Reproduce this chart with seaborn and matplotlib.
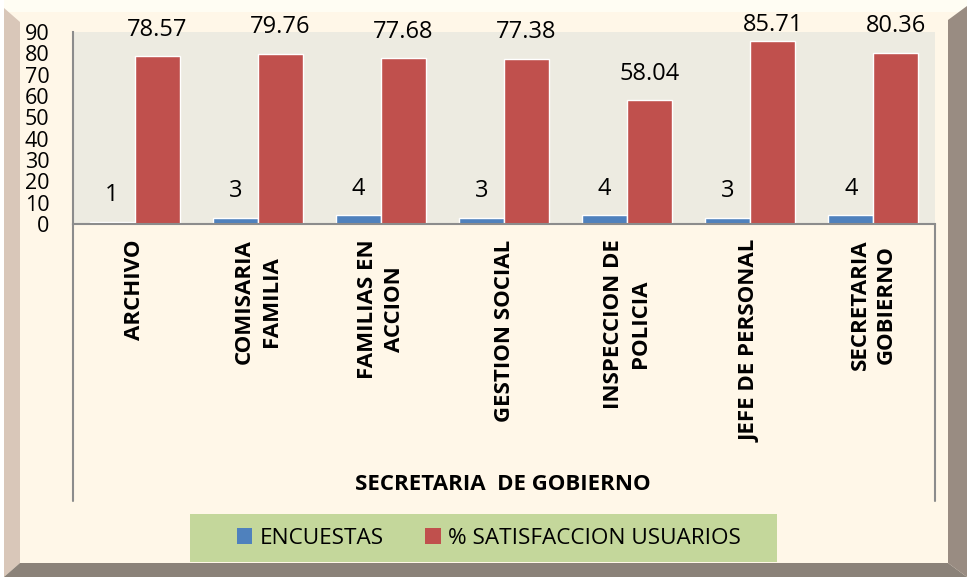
import pandas as pd
import seaborn as sns
import matplotlib.pyplot as plt
from matplotlib.patches import Rectangle, Polygon
from matplotlib.lines import Line2D

# data
categories = ["ARCHIVO", "COMISARIA\nFAMILIA", "FAMILIAS EN\nACCION", "GESTION SOCIAL",
              "INSPECCION DE\nPOLICIA", "JEFE DE PERSONAL", "SECRETARIA\nGOBIERNO"]
encuestas = [1, 3, 4, 3, 4, 3, 4]
satisfaccion = [78.57, 79.76, 77.68, 77.38, 58.04, 85.71, 80.36]
series = ["ENCUESTAS", "% SATISFACCION USUARIOS"]
yticks = [0, 10, 20, 30, 40, 50, 60, 70, 80, 90]

df = pd.DataFrame({
    "area": categories * 2,
    "serie": [series[0]] * len(categories) + [series[1]] * len(categories),
    "valor": encuestas + satisfaccion,
})

colors = ["#4F81BD", "#C0504D"]

sns.set_style("white")
plt.rcParams["font.family"] = ["Open Sans", "DejaVu Sans"]
plt.rcParams["text.color"] = "black"

W, H = 967, 577
fig = plt.figure(figsize=(W / 100, H / 100), dpi=100)
fig.patch.set_facecolor("#FFF7E8")


def fx(x):
    return x / W


def fy(y):
    return 1 - y / H


def frame_piece(pts, color):
    fig.patches.append(Polygon([(fx(x), fy(y)) for x, y in pts], closed=True,
                               transform=fig.transFigure, facecolor=color,
                               edgecolor="none", zorder=-5))


# bevel frame
frame_piece([(0, 0), (967, 0), (967, 12), (0, 12)], "#FFFDF3")
frame_piece([(0, 0), (4, 0), (4, 577), (0, 577)], "white")
frame_piece([(4, 8), (20, 22), (20, 563), (4, 577)], "#D9C7B9")
frame_piece([(4, 577), (20, 563), (948, 563), (967, 577)], "#8B8279")
frame_piece([(948, 20), (967, 6), (967, 577), (948, 563)], "#998C82")

ax = fig.add_axes([fx(73), fy(224), fx(935) - fx(73), fy(32) - fy(224)])
ax.set_facecolor("#EDEBE1")

sns.barplot(data=df, x="area", y="valor", hue="serie", palette=colors, width=0.73,
            errorbar=None, legend=False, saturation=1, ax=ax)

ax.set_ylim(0, 90)
ax.set_yticks(yticks)
ax.set_yticklabels([str(t) for t in yticks], fontsize=15.5)
ax.set_xlabel("")
ax.set_ylabel("")
ax.tick_params(axis="both", length=0, labelcolor="black")
ax.tick_params(axis="y", pad=17)
ax.tick_params(axis="x", pad=11)
for lab in ax.get_xticklabels():
    lab.set_rotation(90)
    lab.set_fontweight("bold")
    lab.set_fontsize(16)
    lab.set_va("top")
    lab.set_ha("center")
    lab.set_multialignment("center")
    lab.set_linespacing(1.35)

for side in ["top", "right"]:
    ax.spines[side].set_visible(False)
for side in ["left", "bottom"]:
    ax.spines[side].set_color("#8C8C8C")
    ax.spines[side].set_linewidth(1.5)

# data labels, kept inside the chart area like Excel does
for cont, labels in zip(ax.containers, [[str(v) for v in encuestas],
                                        [f"{v:.2f}" for v in satisfaccion]]):
    for bar, lab in zip(cont, labels):
        x = bar.get_x() + bar.get_width() / 2
        y = min(bar.get_height() + 12.5, 93.3)
        ax.text(x, y, lab, ha="center", va="center", fontsize=17, clip_on=False)

# category axis box lines
for x in (73, 935):
    fig.lines.append(Line2D([fx(x), fx(x)], [fy(224), fy(501)], transform=fig.transFigure,
                            color="#8C8C8C", linewidth=1.5))

fig.text(fx(503), fy(485), "SECRETARIA  DE GOBIERNO", ha="center", va="center",
         fontsize=16, fontweight="bold")

# legend box
fig.patches.append(Rectangle((fx(190), fy(562)), fx(777) - fx(190), fy(514) - fy(562),
                             transform=fig.transFigure, facecolor="#C4D79B",
                             edgecolor="none", zorder=1))
handles = [Rectangle((0, 0), 1, 1, facecolor=c, edgecolor="none") for c in colors]
fig.legend(handles, series, loc="center", bbox_to_anchor=(fx(489), fy(538)), ncol=2,
           frameon=False, fontsize=16.2, handlelength=0.7, handleheight=0.7,
           handletextpad=0.35, columnspacing=1.8)

fig.savefig("out.png", dpi=100, facecolor=fig.get_facecolor())
